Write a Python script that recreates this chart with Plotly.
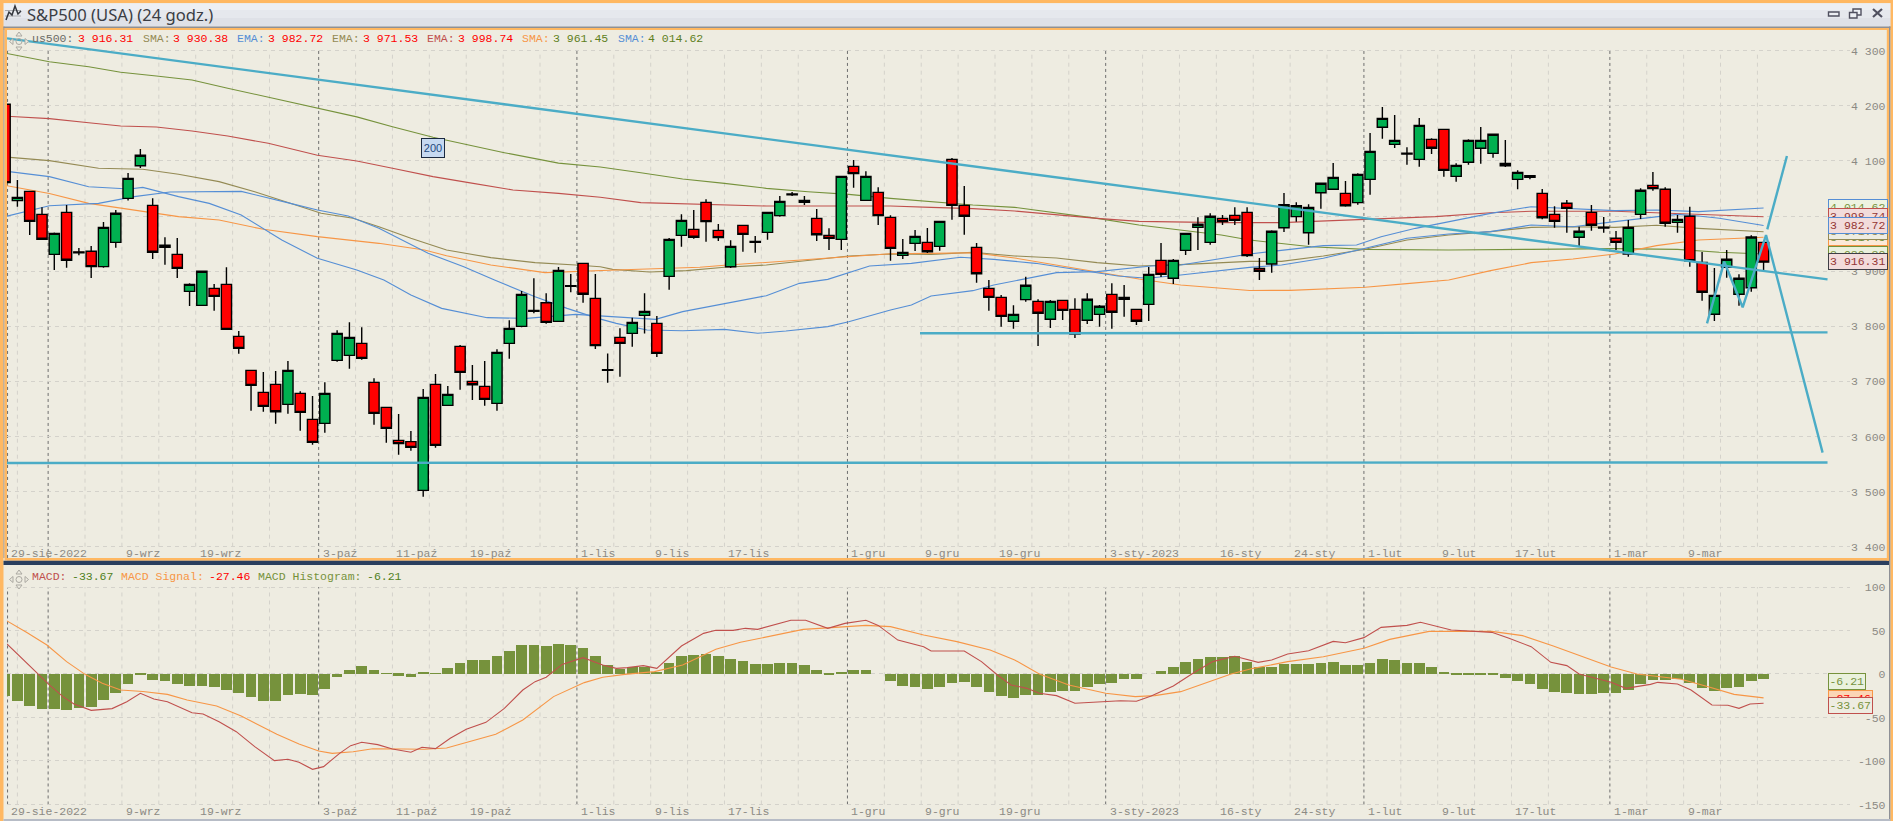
import plotly.graph_objects as go

W, H = 1893, 821

# ---------- price data (indices -1 .. 142) ----------
candle_index = list(range(-1, 143))
candle_open = [4203, 4027.9, 4044.8, 4003.1, 3930.5, 4006.7, 3935, 3936, 3908.2, 3952.3, 4032.1, 4091.4,
    4019.4, 3943.2, 3930.5, 3863.3, 3837.9, 3868.8, 3876.1, 3781.7, 3720, 3680.1, 3694.6, 3658.3,
    3678.3, 3631.1, 3623.8, 3738.1, 3747.2, 3769, 3698.2, 3652.9, 3593, 3590.6, 3502.3, 3694.6,
    3656.5, 3763.5, 3700, 3691, 3660.1, 3769, 3799.8, 3828.5, 3842.8, 3808.9, 3873.8, 3914.2,
    3850.6, 3721.4, 3779.9, 3787.1, 3819.8, 3805.3, 3890.6, 3965, 3975.9, 4024.9, 3974, 3908.1,
    3983.1, 3953.7, 3970.4, 4000.7, 4040, 4024.9, 3995.8, 3965, 3957.7, 4090.2, 4028.5, 4043,
    3997.6, 3928.7, 3950.5, 3952.3, 3945, 4102.9, 4019.4, 3943.2, 3868.8, 3852.5, 3809, 3848.3,
    3845.2, 3812.6, 3847, 3830.7, 3810.8, 3821.6, 3857.9, 3848.9, 3830.7, 3839.8, 3919.6, 3887,
    3937.8, 3979.5, 3952.3, 3995.8, 4001.3, 4006.7, 3905.1, 3913, 3978.9, 3998.9, 3969.8, 4042.4,
    4048.5, 4041.2, 4024.3, 4066.6, 4161, 4130.1, 4114, 4102.9, 4139.2, 4157.3, 4072, 4097.5,
    4122.9, 4113.8, 4095.6, 4066.6, 4073.3, 4041.2, 4003.1, 4023.1, 3961.4, 4006.7, 3979.7, 3959.6,
    3931.1, 4003.1, 4055.7, 4048.5, 3988.6, 3999.5, 3916, 3821.7, 3906.9, 3858, 3870, 3952.3]
candle_high = [4205, 4065.4, 4046, 4015.8, 3970, 4020, 3942, 3945.7, 3989.2, 4011, 4078, 4121.7,
    4032.1, 3961.4, 3960.2, 3877.9, 3900.5, 3876.7, 3907, 3791.4, 3720.5, 3717, 3718.8, 3737,
    3681.9, 3673.4, 3698.2, 3792.6, 3807.1, 3798, 3705.5, 3653.5, 3640.8, 3609.9, 3686.1, 3713.3,
    3691.6, 3766, 3729.7, 3736.9, 3758.1, 3810.7, 3863.9, 3887, 3859.7, 3907.5, 3894.9, 3915,
    3894.9, 3750.8, 3796.2, 3815.6, 3859.7, 3818.6, 3960, 4003.1, 4011, 4030.3, 3985.6, 3955.9,
    3983.5, 3963.8, 4007, 4036.3, 4043.6, 4036.3, 4012.8, 3977.7, 4073, 4101.7, 4081.1, 4052.1,
    4001.3, 3958.3, 3974.7, 3978.3, 3991, 4105.3, 4054.5, 3951.1, 3884, 3856.7, 3838, 3890,
    3848.9, 3847.7, 3848, 3850.7, 3859.8, 3838.6, 3877.9, 3874.9, 3831, 3907.5, 3951.1, 3922,
    3969, 3997.6, 4004.9, 4001.9, 4015.8, 4015.8, 3923.9, 3974.1, 4041.8, 4024.9, 4021.3, 4060,
    4096.2, 4063.6, 4077.5, 4150.7, 4197.9, 4183.3, 4124.7, 4177.9, 4141, 4158, 4095.6, 4139.2,
    4161.6, 4149, 4138, 4083, 4074, 4049, 4017.6, 4029.1, 3980.7, 4020, 3998.3, 3972.9,
    3992.8, 4050.3, 4079.9, 4052.1, 4001.9, 4017, 3934.8, 3905.7, 3938.4, 3894.2, 3965, 3953]
candle_low = [4060, 4017, 3965.6, 3957, 3902, 3906, 3929, 3887.6, 3906.3, 3942.6, 4028, 4087.2,
    3922, 3911.8, 3887.6, 3836.7, 3837, 3828.3, 3794, 3750.2, 3646.8, 3645, 3623.2, 3641.4,
    3610.5, 3585.1, 3606.9, 3735.7, 3723, 3739.4, 3621.4, 3588.8, 3567, 3574.2, 3490.8, 3579.7,
    3656, 3684.9, 3666.2, 3655.9, 3646.8, 3741.2, 3798, 3823.4, 3804.7, 3808, 3861.5, 3842.8,
    3758.7, 3697.6, 3708.5, 3762.9, 3787.1, 3744.2, 3866.4, 3944.4, 3959, 3953.5, 3954.7, 3905.7,
    3935.3, 3933.5, 3957.1, 3998.9, 4036.3, 4020, 3954.7, 3938.4, 3938.4, 4051.5, 4028, 3983.7,
    3919, 3922, 3936.6, 3932.9, 3937.2, 3993.4, 3966.2, 3879.1, 3828.3, 3799.3, 3795.6, 3844.6,
    3764.2, 3796.8, 3811.4, 3778.7, 3804.1, 3799.3, 3795.6, 3817.4, 3802.3, 3809.6, 3889.4, 3876.7,
    3929.3, 3938.4, 3948, 3983.7, 3983.7, 3925.7, 3884, 3897.3, 3971.1, 3989.8, 3948.1, 4013.4,
    4048, 4017, 4020.6, 4038.8, 4140.4, 4123.5, 4093.2, 4089.6, 4112.6, 4071.5, 4062.4, 4093.2,
    4095, 4106, 4089, 4048.5, 4066.6, 3994, 3978.9, 3969.8, 3944.4, 3973.5, 3969.8, 3938.4,
    3926.3, 3994.6, 4046, 3980.7, 3969.8, 3908.2, 3846.5, 3809.6, 3888, 3837.4, 3862.8, 3902]
candle_close = [4060.6, 4033.9, 3990.4, 3957.8, 3968.6, 3919.7, 3933.5, 3908.2, 3979.5, 4005, 4068.4, 4110.2,
    3934.2, 3946.9, 3905.1, 3876, 3899.7, 3854.3, 3794.4, 3759.9, 3692.8, 3654.7, 3645, 3720,
    3643.8, 3589.4, 3678.3, 3787.1, 3779.9, 3741.8, 3642, 3614.8, 3587, 3580.3, 3671, 3583.9,
    3676.5, 3716.4, 3694, 3667.4, 3752.7, 3796.2, 3857.9, 3827, 3807.1, 3901.5, 3872.3, 3858,
    3764.8, 3719.9, 3769, 3807.1, 3827, 3750.8, 3957.7, 3992.2, 3961.4, 3989.8, 3960.8, 3945,
    3966.8, 3952.2, 4006.7, 4026.7, 4038.7, 4028.5, 3966.2, 3959.5, 4072, 4076.9, 4072, 4000.7,
    3941.4, 3934.1, 3963.2, 3935.3, 3990.4, 4019.4, 3999.5, 3895.4, 3852.5, 3818, 3821.6, 3874.3,
    3823.5, 3845.2, 3828.9, 3786, 3848.9, 3836.2, 3825.3, 3852.5, 3809, 3894.2, 3894.2, 3919.6,
    3968.6, 3985, 3999.5, 3989.8, 3992.2, 3928.1, 3899.7, 3972.3, 4020.6, 4018.8, 4015.8, 4059.4,
    4070.2, 4018.8, 4075.7, 4117.4, 4177.3, 4137.4, 4112.5, 4164.6, 4122.9, 4082.9, 4092, 4137.4,
    4137.4, 4148.3, 4091.4, 4079.3, 4070.2, 3997, 3990.4, 4014, 3972.3, 3983.2, 3978.2, 3952.3,
    3979.5, 4046.7, 4049.7, 3986.8, 3994, 3919, 3861.6, 3856.1, 3921.5, 3887, 3962, 3916.31]

# ---------- moving averages: sampled points ----------
sma_olive_i = [-0.85, 2.6, 5.8, 8.4, 11.3, 14.2, 17.1, 21.1, 24.4, 27.6, 30.5, 33.8, 36.7, 39.6, 44, 47.4, 50.7, 54.1,
    57.5, 60.9, 64.3, 67.6, 71, 74.3, 77.7, 81.1, 84.5, 87.8, 91.2, 94.6, 97.9, 100.2, 102.8, 105.2, 109.6,
    116.4, 123.1, 129.9, 135, 138.4, 142]
sma_olive_v = [4295, 4280, 4271, 4261, 4254, 4247, 4232, 4212, 4195, 4180, 4162, 4143, 4129, 4115, 4096, 4089, 4078.7, 4067.2,
    4059.3, 4050.3, 4044.2, 4039.4, 4032.1, 4026, 4020, 4015.8, 4006.1, 3995.8, 3983.7, 3974.7, 3965.6, 3956.5, 3950.5, 3944.4, 3939.6,
    3938.4, 3939.6, 3940.8, 3939.6, 3934.2, 3931]
ema_red_i = [-0.85, 2.6, 5.8, 8.4, 11.3, 14.2, 17.1, 20.4, 24.4, 27.6, 30.5, 33.8, 36.7, 40.3, 44, 47.4, 50.7, 54.1, 57.5,
    60.9, 64.3, 67.6, 71, 74.3, 77.7, 81.1, 84.5, 87.8, 91.2, 94.6, 97.9, 102.8, 109.6, 115.3, 119.8, 123.1, 129.9,
    136.7, 142]
ema_red_v = [4181, 4176.7, 4169.4, 4163.4, 4161.6, 4154.3, 4145.2, 4132, 4110.2, 4099.9, 4086.6, 4071.5, 4060.6, 4047.3, 4041.2, 4034, 4024.3, 4021.8, 4019.4,
    4018.2, 4018.2, 4018.8, 4018.2, 4015.8, 4013.4, 4009.1, 4001.9, 3995.8, 3990.4, 3988.6, 3988, 3988, 3994, 3998.9, 4006.1, 4008.6, 4008.6,
    4003.7, 3998.74]
ema_brown_i = [-0.85, 2.6, 6.6, 10.2, 13.1, 16.4, 19.3, 21.8, 24.7, 27.3, 29.4, 32, 34.9, 38.5, 42.1, 45.4, 47.4, 48.4, 51.4, 54.4, 57.5,
    60.9, 64.3, 67.6, 71, 74.3, 77.7, 81.1, 84.5, 87.8, 91.2, 94.6, 100.2, 102.8, 106.2, 109.6, 113, 116.4, 119.8, 123.1, 126.5,
    129.9, 133.3, 136.7, 142]
ema_brown_v = [4107, 4100.5, 4086.6, 4084.8, 4075.7, 4062.4, 4044.2, 4026, 4005, 3995.9, 3980.7, 3959.6, 3938.4, 3924.5, 3915.4, 3911.2, 3908, 3903.3, 3898.5, 3900.9, 3907,
    3911.2, 3919, 3927.5, 3931.1, 3930.5, 3934.1, 3927.5, 3923.9, 3915.4, 3909.3, 3911.8, 3917.8, 3917.8, 3927.5, 3939.6, 3956.5, 3965.6, 3971.7, 3979.5, 3980.7,
    3979.5, 3983.2, 3977.7, 3971.53]
sma_orange_i = [-0.85, 2.6, 5.8, 9.5, 13.1, 16.4, 20, 24.4, 29.4, 33.1, 34.9, 38.5, 42.9, 48.7, 53, 55.5, 57.5, 60.9, 64.3, 67.6,
    71, 74.3, 77.7, 81.1, 84.5, 87.8, 91.2, 94.6, 100.2, 103.5, 109.6, 113, 116.4, 119.8, 123.1, 126.5, 129.9, 133.3, 136.7, 142]
sma_orange_v = [4055, 4041, 4023, 4011, 3999, 3992.8, 3975.9, 3962.6, 3950.5, 3938.4, 3928.1, 3911.2, 3897.3, 3902.1, 3905.1, 3907, 3910.6, 3916, 3921.4, 3927.5,
    3931.7, 3932.3, 3933.5, 3923.9, 3911.2, 3899.1, 3885.8, 3874.9, 3864.9, 3865.2, 3870.7, 3877.3, 3884, 3900.9, 3915.4, 3922.1, 3931.1, 3946.3, 3956.5, 3961.45]
ema_blue_i = [-0.85, 2.6, 5.8, 9.1, 10.2, 13.1, 15.6, 18.2, 21.5, 24.4, 27.6, 29.8, 32, 34.5, 38.2, 41.4, 45.4, 51.9, 54.1, 57.5, 60.9, 63.6, 65.9, 69.3, 72.7,
    76.7, 79.4, 82.8, 86.2, 89.5, 91.9, 94.6, 100.2, 102.8, 106.2, 109.6, 113, 116.4, 119.8, 123.1, 126.5, 129.9, 133.3, 135, 136.7, 138.4, 142]
ema_blue_v = [4081, 4071.5, 4053.3, 4049, 4052, 4035.2, 4023, 4001.9, 3956.5, 3923.3, 3902.1, 3883.9, 3856.7, 3832.5, 3815.6, 3814.3, 3821.6, 3812.5, 3826.5, 3841.6, 3855.5, 3877.9, 3885.1, 3909.3, 3914.2,
    3925.1, 3921.4, 3914.2, 3902.1, 3891.2, 3887, 3893, 3906.9, 3911.2, 3923.3, 3941.4, 3959.6, 3967.4, 3971.7, 3983.8, 3980.7, 3989.8, 3998.9, 4003.1, 4000.1, 3995.9, 3982.72]
sma_blue_i = [-0.85, 2.6, 6.6, 9.5, 12.4, 18.2, 22.2, 24.4, 26.9, 29.4, 33.4, 36.3, 38.8, 42.1, 44.7, 47.2, 48.7, 51.2, 54.1, 57.5, 60.2, 62.5, 65.9, 67.6, 71, 72.7,
    74.3, 77.7, 79.4, 82.1, 84.5, 87.8, 92.2, 94.6, 100.2, 103.5, 106.2, 108.9, 110.9, 113.7, 116.4, 119.8, 123.1, 126.5, 129.9, 133.3, 136.7, 142]
sma_blue_v = [3999.9, 4018.8, 4023, 4035.2, 4043.6, 4044.8, 4023, 4011, 4000.1, 3977.7, 3932.4, 3908.2, 3883.9, 3853.7, 3832.5, 3814.3, 3805.3, 3793.2, 3792, 3794.4, 3787.2, 3791.4, 3799.3, 3808.3, 3829.5, 3838.6,
    3854.9, 3864.6, 3874.9, 3887, 3897.3, 3899.1, 3909.3, 3911.2, 3931.1, 3939.6, 3946.3, 3947.5, 3962.6, 3977.7, 3989.8, 4004.9, 4017, 4014, 4009.8, 4011, 4008, 4014.62]

# ---------- drawn trend lines ----------
trend_down_i, trend_down_v = [-0.85, 147.2], [4322.4, 3885]
trend_support_i, trend_support_v = [73.4, 147.2], [3787.2, 3789]
trend_low_i, trend_low_v = [-0.85, 147.2], [3552, 3552.8]
zigzag_i = [137.4, 138.8, 140.3, 142.2, 146.8]
zigzag_v = [3805.3, 3917.2, 3834.4, 3965.6, 3570.8]
spike_i, spike_v = [142.3, 143.9], [3975.9, 4108.9]

# ---------- MACD panel ----------
hist_index = list(range(-1, 143))
hist_values = [-25, -30.7, -36.4, -39.8, -39.8, -41, -38.7, -37.5, -29.5, -21.5, -11, -1.1, -6.5, -7.7, -11, -13.4, -13.4, -14.6, -18,
    -21.5, -26, -30.7, -30.7, -23.8, -22.6, -23.8, -16.9, -3, 4.6, 9.2, 4.6, 1.1, -1.9, -3, 2.3, 1.1, 6.9, 12.6, 16.1, 16.1, 20.7,
    26.4, 33.3, 33.3, 32.2, 34.5, 33.3, 29.9, 20.7, 10.3, 5.7, 7.7, 8.4, 2.3, 12.6, 20.7, 21.8, 23, 20.7, 17.2, 14.9, 11.5, 11.5,
    12.6, 12.6, 10.3, 4.6, -1.1, 2.3, 4.6, 4.6, 0, -8, -13.8, -14.9, -17.2, -14.9, -10.3, -9.2, -14.9, -20.7, -25.3, -27.6, -24.1,
    -24.1, -20.7, -19.5, -19.5, -14.9, -11.5, -10.3, -5.7, -5.7, 0, 3.4, 8, 13.8, 17.2, 19.5, 19.5, 20.7, 13.8, 8, 8.4, 11, 11.5,
    11.5, 12.6, 13.8, 10.3, 10.3, 12.6, 17.2, 16.1, 12.6, 12.6, 8, 2.3, -0.4, -0.4, -0.4, -0.4, -4.6, -8, -11.5, -17.2, -20.7,
    -21.8, -23, -23, -21.8, -21.8, -18.4, -11.5, -6.9, -6.9, -5.7, -10.3, -16.1, -19.5, -16.1, -14.9, -8, -6.21]
macd_i = [-0.85, 0.8, 1.6, 2.6, 3.7, 4.6, 6, 7.7, 8.9, 10, 11.1, 12.2, 14.2, 15.1, 16.4, 17.8, 19.3, 20.9, 22, 22.9, 24, 24.9, 26.2, 27.1, 28,
    29.3, 30.5, 32, 32.9, 34, 35.2, 36.5, 38.1, 39.6, 41.1, 42.1, 43, 44.3, 46, 47.6, 48.7, 49.6, 50.9, 52, 54, 55.8, 56.8, 58.2, 59.2, 60.2,
    62.9, 64.1, 65.9, 67.3, 69, 70, 71.6, 73.7, 74.3, 75.7, 77, 78.4, 79.7, 80.8, 82.1, 83.1, 84.5, 86, 88.5, 89.7, 91, 92.2, 94, 95.6,
    97.2, 99, 100.9, 102, 103.3, 105, 107, 108, 109.5, 110.9, 113, 114.1, 116.6, 119.9, 121.3, 123.1, 124.7, 126, 127, 129.6, 130.8, 132.8,
    133.4, 135, 136.1, 137.8, 139.1, 140, 140.9, 142]
macd_v = [34.5, 12.3, 0.8, -12.6, -26, -34.5, -41.8, -39.8, -31.8, -22.2, -28.7, -31.8, -44.5, -46, -54.8, -66.3, -83.5, -99.6, -98, -101.5, -109.6, -106.5, -91.2, -82.4, -78.5,
    -81.2, -86.2, -90, -84.3, -85.8, -73.9, -63.6, -55.6, -39.5, -18.4, -8.8, -3.8, 11, 18.8, 10.3, 6.5, 7.3, 9.6, 6.5, 32.2, 46.7, 50.2, 50.2, 52.5, 51.3,
    61.7, 61.7, 52.5, 58.2, 61.7, 55.9, 39, 31.4, 26.4, 26.4, 26.4, 14.2, -1.1, -12.6, -16.5, -22.2, -24.9, -33.7, -31.8, -30.7, -31.4, -25.3, -13.8, 0.8,
    14.2, 20.3, 13.4, 16.1, 23, 26.8, 37.5, 36, 41.8, 53.6, 55.9, 59.4, 50.6, 47.9, 41, 31.4, 13.4, 9.6, 0, -9.6, -16.5, -11.9,
    -9.6, -11.5, -18.4, -35.6, -36, -39.5, -34.5, -33.67]
signal_i = [-0.85, 0.8, 2.4, 4, 5.5, 6.9, 8.4, 10.2, 12.2, 13.8, 16.2, 18.2, 21.1, 22.9, 24.5, 25.6, 27.3, 28.9, 31.4, 33.1, 34.9, 36.7, 38.9, 41.1, 43.6, 46.1, 47.6,
    49.4, 51.8, 54.1, 56.8, 58.8, 61.5, 63.9, 66.2, 69, 71, 73.7, 76.4, 79.1, 81.1, 83.1, 85.5, 88.5, 90.9, 92.5, 94.6, 97, 98.7, 100.5, 103.3, 106.2, 109.5,
    111.6, 114.8, 119.9, 122.4, 124.9, 127.4, 129.6, 131.7, 133.9, 135.3, 137.5, 139.6, 142]
signal_v = [61, 47.5, 33.3, 14.2, -0.4, -10.7, -18.4, -20.1, -23.4, -29.9, -36.8, -48.3, -69.3, -80.5, -88.5, -91.2, -89.4, -86, -86.2, -86.6, -85.1, -78.2, -69.3, -52.9, -26, -9.9, -3.8,
    -0.4, 2.7, 10.3, 28.4, 36.4, 44.1, 51.3, 53.3, 55.9, 54.4, 44.8, 37.2, 27.6, 16.1, 0, -12.6, -22.2, -26, -24.9, -20.3, -8.8, 0, 6.5, 14.2, 19.9, 29.5,
    39.8, 49, 49, 44.1, 32.2, 19.2, 8, 0, -3.8, -6.1, -14.6, -23.4, -27.46]

# ---------- tick and date labels ----------
price_ticks = [3400, 3500, 3600, 3700, 3800, 3900, 4000, 4100, 4200, 4300]
price_labels = ["3 400", "3 500", "3 600", "3 700", "3 800", "3 900", "4 000", "4 100", "4 200", "4 300"]
macd_ticks = [-150, -100, -50, 0, 50, 100]
macd_labels = ["\u00a0-150", "\u00a0-100", "\u00a0\u00a0-50", "\u00a0\u00a0\u00a0\u00a00", "\u00a0\u00a0\u00a050", "\u00a0\u00a0100"]
date_pos = [-0.82, 8.5, 14.5, 24.5, 30.5, 36.5, 45.5, 51.5, 57.5, 67.5, 73.5, 79.5, 88.5, 97.5, 103.5, 109.5, 115.5, 121.5, 129.5, 135.5]
date_labels = ["29-sie-2022", "9-wrz", "19-wrz", "3-paź", "11-paź", "19-paź", "1-lis", "9-lis", "17-lis", "1-gru", "9-gru",
               "19-gru", "3-sty-2023", "16-sty", "24-sty", "1-lut", "9-lut", "17-lut", "1-mar", "9-mar"]
grid_dark = [-0.8, 2.5, 24.5, 45.5, 67.5, 88.5, 109.5, 129.5]
grid_light = [0, 5.5, 8.5, 11.5, 14.5, 17.5, 20.5, 27.5, 30.5, 33.5, 36.5, 39.5, 42.5, 48.5, 51.5, 54.5, 57.5, 60.5, 63.5, 70.5, 73.5, 76.5,
              79.5, 82.5, 85.5, 91.5, 94.5, 97.5, 100.5, 103.5, 106.5, 112.5, 115.5, 118.5, 121.5, 124.5, 132.5, 135.5, 138.5, 141.5]

# ---------- colours ----------
BG = "#EEECE1"; GREEN = "#00B050"; RED = "#FF0000"
C_TREND = "#4BACC6"; C_OLIVE = "#76923C"; C_DRED = "#C0504D"; C_BROWN = "#948A54"; C_ORANGE = "#F79646"; C_BLUE = "#558ED5"
C_TXT = "#8C8A84"; ORANGE_FRAME = "#FFB862"; MONO = "Liberation Mono"

def px(x): return x / W
def py(y): return 1 - y / H

# pixel-frame helpers for the panels
X_L, X_R = 7, 1850
P1_T, P1_B = 30, 558
P2_T, P2_B = 565, 819
def i_at(x): return (x - 17.4) / 12.297

fig = go.Figure()

def ma(i, v, c, ref="y"):
    fig.add_trace(go.Scatter(x=i, y=v, mode="lines", line=dict(color=c, width=1.1), yaxis=ref, xaxis="x",
                             showlegend=False, hoverinfo="skip", zorder=-1))

ma(sma_olive_i, sma_olive_v, C_OLIVE)
ma(ema_red_i, ema_red_v, C_DRED)
ma(ema_brown_i, ema_brown_v, C_BROWN)
ma(sma_orange_i, sma_orange_v, C_ORANGE)
ma(ema_blue_i, ema_blue_v, C_BLUE)
ma(sma_blue_i, sma_blue_v, C_BLUE)

fig.add_trace(go.Candlestick(x=candle_index, open=candle_open, high=candle_high, low=candle_low, close=candle_close,
    increasing=dict(fillcolor=GREEN, line=dict(color="#000000", width=1.4)),
    decreasing=dict(fillcolor=RED, line=dict(color="#000000", width=1.4)),
    whiskerwidth=0, showlegend=False, hoverinfo="skip", xaxis="x", yaxis="y"))

for i, v in [(trend_down_i, trend_down_v), (trend_support_i, trend_support_v), (trend_low_i, trend_low_v),
             (zigzag_i, zigzag_v), (spike_i, spike_v)]:
    fig.add_trace(go.Scatter(x=i, y=v, mode="lines", line=dict(color=C_TREND, width=2.4), xaxis="x", yaxis="y",
                             showlegend=False, hoverinfo="skip"))

fig.add_trace(go.Bar(x=hist_index, y=hist_values, marker=dict(color=C_OLIVE, line=dict(width=0)), width=0.87,
                     xaxis="x2", yaxis="y2", showlegend=False, hoverinfo="skip"))
fig.add_trace(go.Scatter(x=signal_i, y=signal_v, mode="lines", line=dict(color=C_ORANGE, width=1.1), xaxis="x2", yaxis="y2",
                         showlegend=False, hoverinfo="skip"))
fig.add_trace(go.Scatter(x=macd_i, y=macd_v, mode="lines", line=dict(color=C_DRED, width=1.1), xaxis="x2", yaxis="y2",
                         showlegend=False, hoverinfo="skip"))

shapes = []
def vgrid(x, xr, yr, y0, y1, col, w=1, d="3px,3px"):
    shapes.append(dict(type="line", xref=xr, yref=yr, x0=x, x1=x, y0=y0, y1=y1,
                       line=dict(color=col, width=w, dash=d), layer="below"))
for g in grid_light:
    vgrid(g, "x", "y", 3400, 4300, "#D4D2CB", d="4px,4px")
    vgrid(g, "x2", "y2", -150, 100, "#D4D2CB", d="4px,4px")
for g in grid_dark:
    vgrid(g, "x", "y", 3379.6, 4300, "#6E6E6E")
    vgrid(g, "x2", "y2", -150, 100, "#6E6E6E")

def rect(x0, y0, x1, y1, fill, line=None, lw=1):
    shapes.append(dict(type="rect", xref="paper", yref="paper", x0=px(x0), x1=px(x1), y0=py(y0), y1=py(y1),
                       fillcolor=fill, line=dict(color=line or fill, width=lw if line else 0), layer="above"))
def path(pts, col, w=1.3, fill=None):
    d = "M" + " L".join(f"{px(a):.5f},{py(b):.5f}" for a, b in pts)
    if fill: d += " Z"
    shapes.append(dict(type="path", xref="paper", yref="paper", path=d, fillcolor=fill,
                       line=dict(color=col, width=w), layer="above"))

# window frame
rect(0, 0, W, 3.2, ORANGE_FRAME)
rect(0, 3.2, W, 10, "#EDEFF3"); rect(0, 10, W, 18, "#E6E8ED"); rect(0, 18, W, 26.6, "#DFE1E7")
rect(0, 26.6, W, 28, "#8E9096")
rect(3, 28, W, 30, ORANGE_FRAME)
rect(0, 0, 3.5, H, ORANGE_FRAME)
rect(3.5, 26.6, 4.5, P1_B, "#8E9096")
rect(4.5, 28, 7, P1_B + 2.5, ORANGE_FRAME)
rect(7, P1_B, 1889, P1_B + 2.7, ORANGE_FRAME)
rect(3.5, P1_B + 2.7, 1889, P2_T, "#2A3F5F")
rect(1886.8, 28, 1889, P1_B + 2.7, ORANGE_FRAME)
rect(1889, 26.6, 1890.6, H, "#8E9096")
rect(1890.6, 0, W, H, ORANGE_FRAME)
rect(3.5, P2_B, 1890, H, "#B7BCC6")
# title-bar icon
path([(5, 10.5), (21, 10.5)], "#A9ABB0", 1); path([(5, 16), (21, 16)], "#A9ABB0", 1)
path([(6, 20), (9, 12), (12, 15), (15, 6), (18, 14), (21, 11)], "#33363D", 1.5)
# window buttons
rect(1828.5, 12, 1839, 16, "#EDEFF3", "#50505F", 1.4)
rect(1853, 9, 1861, 15, "#EDEFF3", "#50505F", 1.4)
rect(1849.5, 12.5, 1857, 18, "#EDEFF3", "#50505F", 1.4)
path([(1873, 9), (1882, 17)], "#50505F", 2.2); path([(1882, 9), (1873, 17)], "#50505F", 2.2)
# panel drag handles
for top in (32, 570):
    path([(19, top), (16, top + 4), (22, top + 4)], "#ABA9A2", 1, BG)
    path([(19, top + 19), (16, top + 15), (22, top + 15)], "#ABA9A2", 1, BG)
    path([(9.5, top + 9.5), (13, top + 6.5), (13, top + 12.5)], "#ABA9A2", 1, BG)
    path([(28.5, top + 9.5), (25, top + 6.5), (25, top + 12.5)], "#ABA9A2", 1, BG)
    shapes.append(dict(type="circle", xref="paper", yref="paper", x0=px(16), x1=px(22), y0=py(top + 12.5), y1=py(top + 6.5),
                       line=dict(color="#ABA9A2", width=1), layer="above"))

ann = []
def txt(x, y, s, col, size=11.5, fam=MONO, anchor="left", **k):
    ann.append(dict(xref="paper", yref="paper", x=px(x), y=py(y), text=s, showarrow=False, xanchor=anchor, yanchor="middle",
                    font=dict(family=fam, size=size, color=col), **k))

txt(25, 14.5, "S&amp;P500 (USA) (24 godz.)", "#3A3D44", size=16.6, fam="Noto Sans")

legend_main = [(30, "us500:", "#6B6B66"), (76, "3 916.31", RED), (140.5, "SMA:", C_BROWN), (171, "3 930.38", RED),
               (235, "EMA:", C_BLUE), (266, "3 982.72", RED), (330, "EMA:", C_BROWN), (361, "3 971.53", RED),
               (425, "EMA:", C_DRED), (456, "3 998.74", RED), (520, "SMA:", C_ORANGE), (551, "3 961.45", "#5E7F22"),
               (615.5, "SMA:", C_BLUE), (646, "4 014.62", "#5E7F22")]
for x, s, c in legend_main:
    txt(x, 38.7, s, c)
legend_macd = [(30, "MACD:", C_DRED), (69.5, "-33.67", "#4F7F22"), (119, "MACD Signal:", C_ORANGE), (206.6, "-27.46", RED),
               (255.7, "MACD Histogram:", C_OLIVE), (365, "-6.21", "#4F7F22")]
for x, s, c in legend_macd:
    txt(x, 576.7, s, c)

for pos, lab in zip(date_pos, date_labels):
    for ax_y in (553.3, 811.7):
        ann.append(dict(xref="x", yref="paper", x=pos, y=py(ax_y), text=lab, showarrow=False, xanchor="left", xshift=2,
                        yanchor="middle", font=dict(family=MONO, size=11.5, color=C_TXT)))

ann.append(dict(xref="paper", yref="paper", x=px(432.5), y=py(147.5), text="200", showarrow=False, width=22, height=18,
                xanchor="center", yanchor="middle",
                bgcolor="#C6D9F1", bordercolor="#1B2A41", borderwidth=1, borderpad=0,
                font=dict(family="Liberation Sans", size=11, color="#1F497D")))

def box(y_top, s, border, fill, col, x=1827.5, w=57.5, h=14.5):
    ann.append(dict(xref="paper", yref="paper", x=px(x), y=py(y_top), text=s, showarrow=False, xanchor="left", yanchor="top",
                    width=w, height=h, bgcolor=fill, bordercolor=border, borderwidth=1, borderpad=0, align="center",
                    font=dict(family=MONO, size=11.5, color=col)))
box(199.3, "4 014.62", C_BLUE, "#EEF3E0", C_OLIVE)
box(208.3, "3 998.74", C_DRED, "#F2DCDB", "#943634")
box(228.7, "3 961.45", C_ORANGE, "#FBE9D8", "#76923C")
box(223.3, "3 971.53", C_BROWN, "#EEECE1", C_BROWN)
box(217.3, "3 982.72", C_BLUE, "#F2DCDB", "#943634")
box(246.3, "3 930.38", C_OLIVE, "#EAF1DD", C_OLIVE)
box(253.3, "3 916.31", "#3F3F46", "#F2DCDB", "#943634")
box(672.7, "-6.21", C_OLIVE, "#EAF1DD", C_OLIVE, w=35.5)
box(690.3, "-27.46", C_ORANGE, "#FBD5B5", RED, w=42.5)
box(696.7, "-33.67", C_DRED, "#EEECE1", C_OLIVE, w=42.5)

axis_grid = dict(showgrid=True, gridcolor="#D4D2CB", griddash="4px,4px", gridwidth=1, zeroline=False, showline=False, ticks="",
                 side="right", tickfont=dict(family=MONO, size=11.5, color=C_TXT), fixedrange=True, tickmode="array")

fig.update_layout(
    width=W, height=H, margin=dict(l=0, r=0, t=0, b=0), autosize=False,
    paper_bgcolor=BG, plot_bgcolor=BG, showlegend=False, boxgap=0.17, boxgroupgap=0, bargap=0,
    xaxis=dict(domain=[px(X_L), px(X_R)], range=[i_at(X_L), i_at(X_R)], showgrid=False, zeroline=False, showticklabels=False,
               rangeslider=dict(visible=False), anchor="y", fixedrange=True),
    xaxis2=dict(domain=[px(X_L), px(X_R)], range=[i_at(X_L), i_at(X_R)], showgrid=False, zeroline=False, showticklabels=False,
                anchor="y2", fixedrange=True),
    yaxis=dict(domain=[py(P1_B), py(P1_T)], range=[3379.5, 4337.6], tickvals=price_ticks, ticktext=price_labels, anchor="x", **axis_grid),
    yaxis2=dict(domain=[py(P2_B), py(P2_T)], range=[-166.7, 125.3], tickvals=macd_ticks, ticktext=macd_labels, anchor="x2", **axis_grid),
    shapes=shapes, annotations=ann,
)

fig.write_html("out.html", config=dict(displayModeBar=False),
               post_script="document.body.style.margin='0';document.documentElement.style.overflow='hidden';")
